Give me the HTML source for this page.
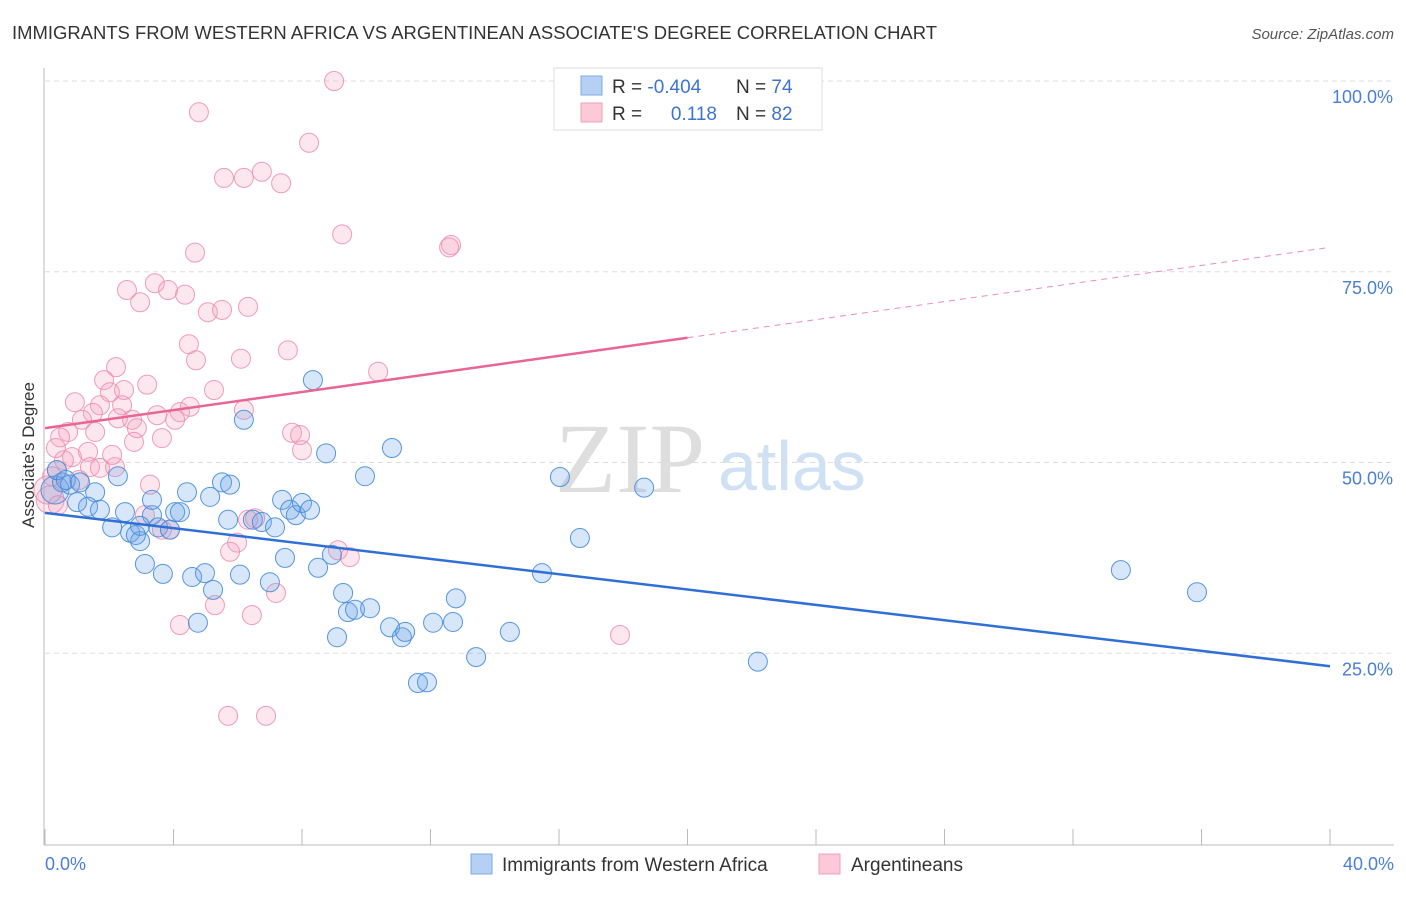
<!DOCTYPE html>
<html><head><meta charset="utf-8"><style>
body{margin:0;background:#fff;font-family:"Liberation Sans",sans-serif}
</style></head><body>
<svg id="chart" width="1406" height="892" viewBox="0 0 1406 892" xmlns="http://www.w3.org/2000/svg">
<text x="12" y="39" font-size="18" fill="#333" textLength="925" lengthAdjust="spacingAndGlyphs">IMMIGRANTS FROM WESTERN AFRICA VS ARGENTINEAN ASSOCIATE'S DEGREE CORRELATION CHART</text>
<text x="1394" y="39" font-size="15" fill="#555" font-style="italic" text-anchor="end">Source: ZipAtlas.com</text>
<text x="555" y="492" font-size="100" fill="#dedede" font-family="Liberation Serif,serif">ZIP</text>
<text x="718" y="490" font-size="70" fill="#d0e1f4">atlas</text>
<g id="grid"></g>
<line x1="44" y1="68" x2="44" y2="845" stroke="#bbb"/>
<line x1="44" y1="845" x2="1394" y2="845" stroke="#bbb"/>
<text transform="translate(34,455) rotate(-90)" font-size="17" fill="#333" text-anchor="middle">Associate's Degree</text>
<text x="45" y="870" font-size="18" fill="#4a7fd4">0.0%</text>
<text x="1394" y="870" font-size="18" fill="#4a7fd4" text-anchor="end">40.0%</text>
<g id="points"></g>
<g id="lines"></g>
<g>
<rect x="554" y="68" width="268" height="62" fill="#fff" stroke="#ddd"/>
<rect x="581" y="76" width="21" height="19" fill="#b5d0f3" stroke="#7eaae6"/>
<rect x="581" y="103" width="21" height="19" fill="#fbc9d8" stroke="#f0a0bb"/>
<text x="612" y="93" font-size="19" fill="#333">R = <tspan fill="#3d74cf">-0.404</tspan></text>
<text x="736" y="93" font-size="19" fill="#333">N = <tspan fill="#3d74cf">74</tspan></text>
<text x="612" y="120" font-size="19" fill="#333">R = </text>
<text x="717" y="120" font-size="19" fill="#3d74cf" text-anchor="end">0.118</text>
<text x="736" y="120" font-size="19" fill="#333">N = <tspan fill="#3d74cf">82</tspan></text>
</g>
<g>
<rect x="471" y="854" width="21" height="20" fill="#b5d0f3" stroke="#7eaae6"/>
<text x="502" y="871" font-size="19" fill="#333">Immigrants from Western Africa</text>
<rect x="819" y="854" width="21" height="20" fill="#fbc9d8" stroke="#f0a0bb"/>
<text x="851" y="871" font-size="19" fill="#333">Argentineans</text>
</g>
</svg>
<script>
const yTicks=[25,50,75,100];
const yTickLabels=["25.0%","50.0%","75.0%","100.0%"];
const xTicks=[0,4,8,12,16,20,24,28,32,36,40];
const blueX=[0.31,0.53,0.78,1.56,1.0,1.34,1.71,2.27,2.09,2.49,2.65,2.96,2.83,3.33,3.52,3.89,4.05,3.11,3.67,4.42,4.2,4.58,4.98,5.14,5.23,4.76,5.51,5.76,5.7,6.07,6.19,6.47,6.75,7.0,7.16,7.47,7.38,7.63,7.81,8.0,8.25,8.34,8.5,8.75,8.93,9.09,9.28,9.43,9.65,10.12,9.96,10.74,10.8,11.11,11.21,11.61,11.89,12.08,12.7,12.79,13.42,14.47,15.47,16.03,16.65,18.65,22.19,33.49,35.86,0.37,0.65,1.09,2.96,3.33];
const blueY=[46.4,47.4,47.1,46.1,44.8,44.2,43.8,48.2,41.5,43.5,40.8,39.7,40.5,43.1,41.5,41.2,43.5,36.7,35.4,46.1,43.5,35.0,35.5,45.5,33.3,29.0,47.4,47.1,42.5,35.3,55.6,42.5,42.2,34.3,41.5,37.5,45.1,43.8,43.1,44.7,43.8,60.8,36.2,51.2,37.9,27.1,32.9,30.4,30.7,30.9,48.2,28.4,51.9,27.1,27.8,21.1,21.2,29.0,29.1,32.2,24.5,27.8,35.5,48.1,40.1,46.7,23.9,35.9,33.0,49.0,47.7,47.4,41.7,45.1];
const pinkX=[9.0,4.79,8.22,5.57,6.19,6.75,7.35,9.25,12.64,12.58,4.67,2.55,3.42,2.96,3.83,4.36,5.07,5.51,6.32,4.48,4.7,6.1,7.56,10.37,2.21,1.84,3.18,0.93,2.02,2.46,1.71,2.4,5.26,4.51,4.2,3.49,2.71,1.49,1.15,2.27,4.05,2.86,1.56,0.72,0.47,3.64,2.77,7.69,7.94,8.0,0.34,0.84,1.34,0.59,0.37,1.4,1.71,2.18,1.06,3.27,0.16,0.4,3.11,3.89,3.64,6.32,6.54,5.98,5.76,9.12,9.49,5.29,7.19,4.2,6.44,17.9,5.7,6.88,0.22,0.09,2.09,6.19];
const pinkY=[100,95.9,91.9,87.3,87.3,88.1,86.6,79.9,78.5,78.2,77.5,72.6,73.5,71.0,72.6,72.0,69.7,70.0,70.4,65.5,63.4,63.6,64.7,61.9,62.5,60.8,60.2,57.9,59.2,59.5,57.5,57.5,59.5,57.3,56.6,56.2,55.6,56.5,55.6,55.8,55.6,54.5,54.0,54.0,53.3,53.2,52.7,53.9,53.6,51.6,51.9,50.7,51.4,50.3,49.0,49.4,49.3,49.4,47.7,47.1,45.1,44.4,43.1,41.2,41.2,42.5,42.7,39.5,38.3,38.5,37.6,31.3,32.9,28.7,30.0,27.4,16.8,16.8,48.2,46.4,51.0,56.9];
const blueTrend=[43.4,23.3];
const pinkTrend=[54.5,78.2];
const pinkSolidEnd=20;

const NS="http://www.w3.org/2000/svg";
const sx=v=>45+v/40*1285;
const sy=v=>844-v/100*763;
function mk(tag,attrs,parent){const e=document.createElementNS(NS,tag);for(const k in attrs)e.setAttribute(k,attrs[k]);parent.appendChild(e);return e;}
const grid=document.getElementById('grid');
yTicks.forEach((t,i)=>{
  const l=mk('line',{x1:45,x2:1394,y1:sy(t),y2:sy(t),stroke:'#ddd','stroke-dasharray':'5,4'},grid);
  
  
  const tx=mk('text',{x:1393,y:sy(t)+22,'font-size':18,fill:'#4a7fd4','text-anchor':'end'},grid);
  tx.textContent=yTickLabels[i];
  
  
});
xTicks.forEach(t=>{
  const l=mk('line',{x1:sx(t),x2:sx(t),y1:829,y2:845,stroke:'#bbb'},grid);
  
  
});
const pts=document.getElementById('points');
function dots(X,Y,fill,stroke,name){
  X.forEach((x,i)=>{
    const big=(x<0.35&&(Y[i]>44&&Y[i]<47));
    const c=mk('circle',{cx:sx(x),cy:sy(Y[i]),r:big?14:9.5,fill:fill,stroke:stroke,'stroke-width':1},pts);
    
    
  });
}
dots(pinkX,pinkY,'rgba(244,160,188,0.25)','rgba(236,140,172,0.85)','point-argentineans');
dots(blueX,blueY,'rgba(110,165,230,0.28)','rgba(70,140,220,0.9)','point-western-africa');
const lg=document.getElementById('lines');
const bl=mk('line',{x1:sx(0),y1:sy(blueTrend[0]),x2:sx(40),y2:sy(blueTrend[1]),stroke:'#2f6fd6','stroke-width':2.5},lg);


const pAt=x=>pinkTrend[0]+(pinkTrend[1]-pinkTrend[0])*x/40;
const pl=mk('line',{x1:sx(0),y1:sy(pAt(0)),x2:sx(pinkSolidEnd),y2:sy(pAt(pinkSolidEnd)),stroke:'#e8668f','stroke-width':2.5},lg);


const pd=mk('line',{x1:sx(pinkSolidEnd),y1:sy(pAt(pinkSolidEnd)),x2:sx(40),y2:sy(pAt(40)),stroke:'#eb8fae','stroke-width':1,'stroke-dasharray':'6,5'},lg);


</script>
</body></html>
